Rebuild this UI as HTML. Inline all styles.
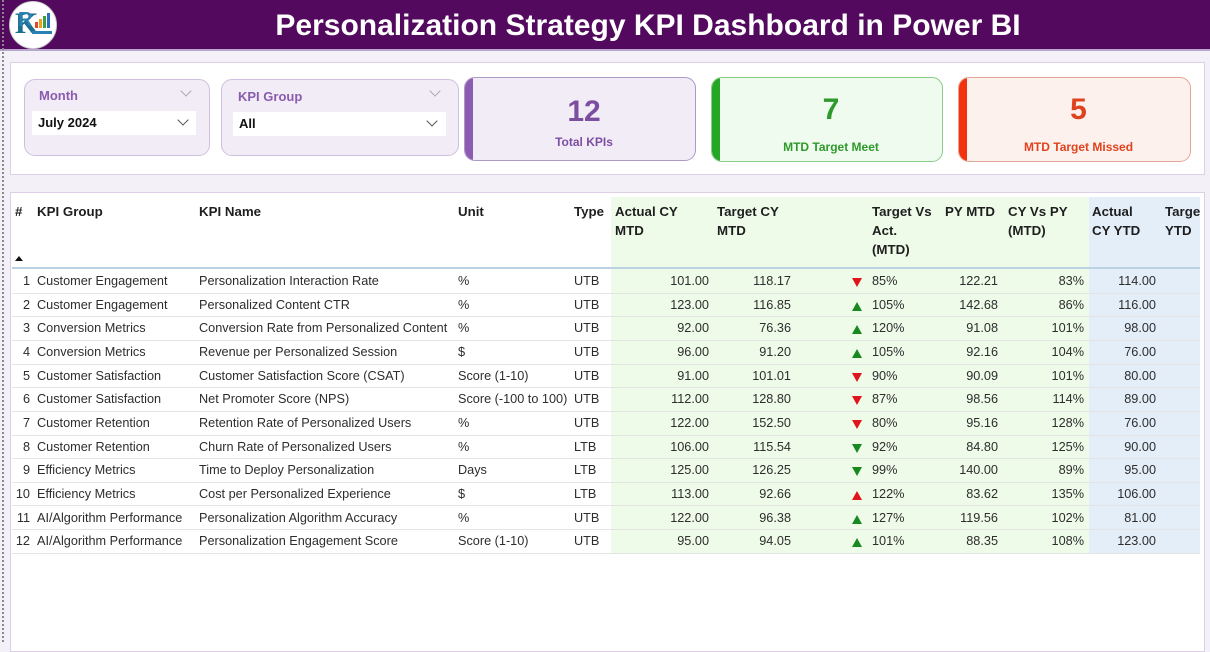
<!DOCTYPE html>
<html><head><meta charset="utf-8"><style>
*{margin:0;padding:0;box-sizing:border-box}
body{width:1210px;height:642px;overflow:hidden;background:#f4f0f8;font-family:"Liberation Sans",Arial,sans-serif;position:relative}
.abs{position:absolute}
#hdr{left:0;top:0;width:1210px;height:51px;background:#52095e;border-bottom:2px solid #b9a6cf}
#title{left:0;top:0;width:1210px;height:51px;line-height:51px;text-align:center;color:#fff;font-weight:bold;font-size:30px;padding-left:86px}
#dots{left:2px;top:0;width:0;height:642px;border-left:2px dotted #8a8a8a}
.panel{background:#fff;border:1.5px solid #dccfe6}
.slicer{background:#f2ecf7;border:1.5px solid #cfc0df;border-radius:11px}
.slab{color:#8a5cae;font-weight:bold;font-size:13px}
.dd{background:#fff;height:24px;font-weight:bold;font-size:13px;color:#111;line-height:24px;padding-left:6px}
.chev{width:8px;height:8px;border-right:1.3px solid #555;border-bottom:1.3px solid #555;transform:rotate(45deg)}
.chev.l{border-color:#aaa}
.card{border-radius:11px;overflow:hidden}
.card .bar{position:absolute;left:0;top:0;bottom:0;width:8px}
.big{font-weight:bold;font-size:30px;text-align:center}
.clab{font-weight:bold;font-size:12px;text-align:center}
.th{font-weight:bold;font-size:13.3px;color:#1e1e1e;line-height:19px}
.row{position:absolute;left:12px;width:1188px;height:23.65px;border-bottom:1px solid #e4e4e4}
.c{position:absolute;top:0;line-height:23px;font-size:12.7px;color:#2d2d2d;white-space:nowrap}
.r{text-align:right}
.up,.dn{position:absolute;top:8px;width:0;height:0;border-left:5px solid transparent;border-right:5px solid transparent}
.up{border-bottom:9px solid}
.dn{border-top:9px solid}
.red{border-top-color:#e0141a;border-bottom-color:#e0141a}
.grn{border-top-color:#17891f;border-bottom-color:#17891f}
</style></head><body>
<div id="hdr" class="abs"></div>
<div id="title" class="abs">Personalization Strategy KPI Dashboard in Power BI</div>
<!-- logo -->
<div class="abs" style="left:9px;top:1px;width:48px;height:48px;border-radius:50%;background:#fff;border:1px solid #ccc"></div>
<div class="abs" style="left:15px;top:6px;font-size:30px;font-weight:bold;color:#1b6e8f;font-family:'Liberation Serif',serif;line-height:36px">K</div>
<div class="abs" style="left:18px;top:10px;font-size:20px;font-weight:bold;color:#2a80b0;line-height:20px">R</div>
<div class="abs" style="left:35px;top:22px;width:3px;height:6px;background:#e24a2a"></div>
<div class="abs" style="left:39px;top:19px;width:3px;height:9px;background:#f0a020"></div>
<div class="abs" style="left:43px;top:16px;width:3px;height:12px;background:#3aa040"></div>
<div class="abs" style="left:47px;top:13px;width:3px;height:15px;background:#2a70c0"></div>
<div class="abs" style="left:32px;top:31px;width:20px;height:3px;background:#2a80b0"></div>

<div id="dots" class="abs"></div>

<!-- top panel -->
<div class="abs panel" style="left:10px;top:62px;width:1195px;height:113px"></div>

<div class="abs slicer" style="left:24px;top:79px;width:186px;height:77px"></div>
<div class="abs slab" style="left:39px;top:88px">Month</div>
<div class="abs chev l" style="left:182px;top:87px"></div>
<div class="abs dd" style="left:32px;top:111px;width:164px">July 2024</div>
<div class="abs chev" style="left:179px;top:116px"></div>

<div class="abs slicer" style="left:221px;top:79px;width:238px;height:77px"></div>
<div class="abs slab" style="left:238px;top:89px">KPI Group</div>
<div class="abs chev l" style="left:431px;top:87px"></div>
<div class="abs dd" style="left:233px;top:112px;width:213px">All</div>
<div class="abs chev" style="left:428px;top:117px"></div>

<div class="abs card" style="left:464px;top:77px;width:232px;height:84px;background:#f2ecf7;border:1.5px solid #ad98c7">
  <div class="bar" style="background:#8b5cb0"></div>
  <div class="abs big" style="left:8px;right:0;top:17px;color:#7c4ea0">12</div>
  <div class="abs clab" style="left:8px;right:0;top:57px;color:#7c4ea0">Total KPIs</div>
</div>
<div class="abs card" style="left:711px;top:77px;width:232px;height:85px;background:#effbee;border:1.5px solid #8acb86">
  <div class="bar" style="background:#25a626"></div>
  <div class="abs big" style="left:8px;right:0;top:15px;color:#2f9a2c">7</div>
  <div class="abs clab" style="left:8px;right:0;top:62px;color:#2f9a2c">MTD Target Meet</div>
</div>
<div class="abs card" style="left:958px;top:77px;width:233px;height:85px;background:#fdf1ed;border:1.5px solid #e3a696">
  <div class="bar" style="background:#f2310f"></div>
  <div class="abs big" style="left:8px;right:0;top:15px;color:#e0421d">5</div>
  <div class="abs clab" style="left:8px;right:0;top:62px;color:#e0421d">MTD Target Missed</div>
</div>

<!-- table panel -->
<div class="abs panel" style="left:10px;top:192px;width:1195px;height:460px"></div>
<div class="abs" style="left:611px;top:197px;width:478px;height:356px;background:#eefbe9"></div>
<div class="abs" style="left:1089px;top:197px;width:111px;height:356px;background:#e3eef9"></div>

<div class="abs th" style="left:15px;top:202px">#</div>
<div class="abs th" style="left:37px;top:202px">KPI Group</div>
<div class="abs th" style="left:199px;top:202px">KPI Name</div>
<div class="abs th" style="left:458px;top:202px">Unit</div>
<div class="abs th" style="left:574px;top:202px">Type</div>
<div class="abs th" style="left:615px;top:202px">Actual CY<br>MTD</div>
<div class="abs th" style="left:717px;top:202px">Target CY<br>MTD</div>
<div class="abs th" style="left:872px;top:202px">Target Vs<br>Act.<br>(MTD)</div>
<div class="abs th" style="left:945px;top:202px">PY MTD</div>
<div class="abs th" style="left:1008px;top:202px">CY Vs PY<br>(MTD)</div>
<div class="abs th" style="left:1092px;top:202px">Actual<br>CY YTD</div>
<div class="abs th" style="left:1165px;top:202px;width:35px;overflow:hidden;white-space:nowrap">Target<br>YTD</div>
<div class="abs" style="left:15px;top:256px;width:0;height:0;border-left:4px solid transparent;border-right:4px solid transparent;border-bottom:5px solid #111"></div>
<div class="abs" style="left:12px;top:267px;width:1188px;height:2px;background:#b9d3e2"></div>

<div id="rows"></div>
<script>
(function(){
var d=[
["1","Customer Engagement","Personalization Interaction Rate","%","UTB","101.00","118.17","dn red","85%","122.21","83%","114.00"],
["2","Customer Engagement","Personalized Content CTR","%","UTB","123.00","116.85","up grn","105%","142.68","86%","116.00"],
["3","Conversion Metrics","Conversion Rate from Personalized Content","%","UTB","92.00","76.36","up grn","120%","91.08","101%","98.00"],
["4","Conversion Metrics","Revenue per Personalized Session","$","UTB","96.00","91.20","up grn","105%","92.16","104%","76.00"],
["5","Customer Satisfaction","Customer Satisfaction Score (CSAT)","Score (1-10)","UTB","91.00","101.01","dn red","90%","90.09","101%","80.00"],
["6","Customer Satisfaction","Net Promoter Score (NPS)","Score (-100 to 100)","UTB","112.00","128.80","dn red","87%","98.56","114%","89.00"],
["7","Customer Retention","Retention Rate of Personalized Users","%","UTB","122.00","152.50","dn red","80%","95.16","128%","76.00"],
["8","Customer Retention","Churn Rate of Personalized Users","%","LTB","106.00","115.54","dn grn","92%","84.80","125%","90.00"],
["9","Efficiency Metrics","Time to Deploy Personalization","Days","LTB","125.00","126.25","dn grn","99%","140.00","89%","95.00"],
["10","Efficiency Metrics","Cost per Personalized Experience","$","LTB","113.00","92.66","up red","122%","83.62","135%","106.00"],
["11","AI/Algorithm Performance","Personalization Algorithm Accuracy","%","UTB","122.00","96.38","up grn","127%","119.56","102%","81.00"],
["12","AI/Algorithm Performance","Personalization Engagement Score","Score (1-10)","UTB","95.00","94.05","up grn","101%","88.35","108%","123.00"]];
var h="";
for(var i=0;i<d.length;i++){var r=d[i];var yy=270+i*23.65;var o=12;var W=1188;
h+='<div class="row" style="top:'+yy+'px">';
h+='<span class="c r" style="right:'+(W-(30-o))+'px">'+r[0]+'</span>';
h+='<span class="c" style="left:'+(37-o)+'px">'+r[1]+'</span>';
h+='<span class="c" style="left:'+(199-o)+'px">'+r[2]+'</span>';
h+='<span class="c" style="left:'+(458-o)+'px">'+r[3]+'</span>';
h+='<span class="c" style="left:'+(574-o)+'px">'+r[4]+'</span>';
h+='<span class="c r" style="right:'+(W-(709-o))+'px">'+r[5]+'</span>';
h+='<span class="c r" style="right:'+(W-(791-o))+'px">'+r[6]+'</span>';
h+='<span class="'+r[7]+'" style="left:'+(852-o)+'px"></span>';
h+='<span class="c" style="left:'+(872-o)+'px">'+r[8]+'</span>';
h+='<span class="c r" style="right:'+(W-(998-o))+'px">'+r[9]+'</span>';
h+='<span class="c r" style="right:'+(W-(1084-o))+'px">'+r[10]+'</span>';
h+='<span class="c r" style="right:'+(W-(1156-o))+'px">'+r[11]+'</span>';
h+='</div>';}
document.getElementById("rows").innerHTML=h;
})();
</script>
</body></html>
